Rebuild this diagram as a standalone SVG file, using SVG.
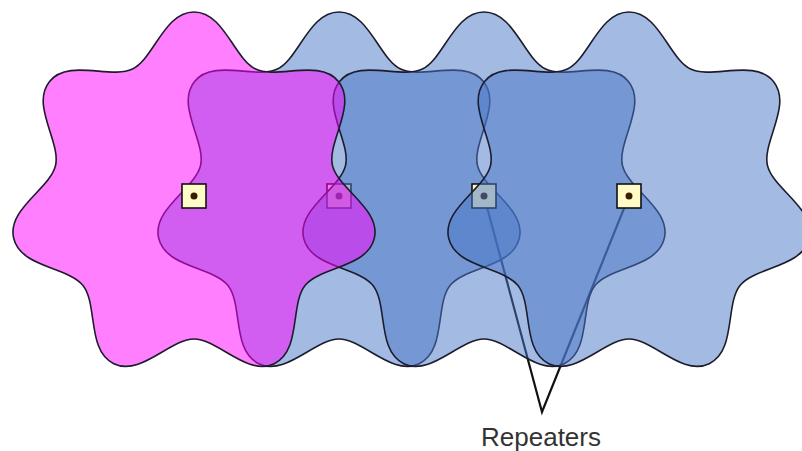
<svg xmlns="http://www.w3.org/2000/svg" width="802" height="451" viewBox="0 0 802 451">
<style>
.blue{fill:#4775C8;fill-opacity:0.5;stroke:#1c1c2c;stroke-width:1.6;stroke-linejoin:round}
.pink{fill:#FF00FF;fill-opacity:0.5;stroke:#1c1c2c;stroke-width:1.6;stroke-linejoin:round}
.mk rect{fill:#FFFBC6;stroke:#111;stroke-width:1.6}
.mk circle{fill:#3a1c00}
.conn{fill:none;stroke:#111;stroke-width:2.2;stroke-linejoin:miter}
.lbl{font-family:"Liberation Sans",Arial,sans-serif;font-size:26px;fill:#333}
</style>
<defs>
<path id="wave" d="M0,-185 C-30,-185 -39.99,-138.35 -61.61,-127.94 S-125.94,-138.80 -144.64,-115.35 S-133.10,-55.00 -138.44,-31.60 S-187.04,11.92 -180.36,41.17 S-125.98,69.78 -111.02,88.54 S-107.30,153.66 -80.27,166.68 S-24,142 0,142 S53.24,179.70 80.27,166.68 S96.06,107.30 111.02,88.54 S173.68,70.42 180.36,41.17 S143.78,-8.20 138.44,-31.60 S163.34,-91.90 144.64,-115.35 S83.23,-117.53 61.61,-127.94 S30,-185 0,-185 Z"/>
</defs>
<rect width="802" height="451" fill="#fff"/>
<g id="connectors"><path class="conn" d="M484,196 L542,412 L629,196"/></g>
<g id="shape2"><use href="#wave" class="blue" transform="translate(339,197)"/></g>
<g id="marker2" class="mk"><rect x="327" y="184" width="24" height="24"/><circle cx="339" cy="196" r="3.5"/></g>
<g id="shape3"><use href="#wave" class="blue" transform="translate(484,197)"/></g>
<g id="marker3" class="mk"><rect x="472" y="184" width="24" height="24"/><circle cx="484" cy="196" r="3.5"/></g>
<g id="shape4"><use href="#wave" class="blue" transform="translate(629,197)"/></g>
<g id="marker4" class="mk"><rect x="617" y="184" width="24" height="24"/><circle cx="629" cy="196" r="3.5"/></g>
<g id="shape1"><use href="#wave" class="pink" transform="translate(194,197)"/></g>
<g id="marker1" class="mk"><rect x="182" y="184" width="24" height="24"/><circle cx="194" cy="196" r="3.5"/></g>
<g id="label"><text class="lbl" x="541" y="446" text-anchor="middle">Repeaters</text></g>
</svg>
